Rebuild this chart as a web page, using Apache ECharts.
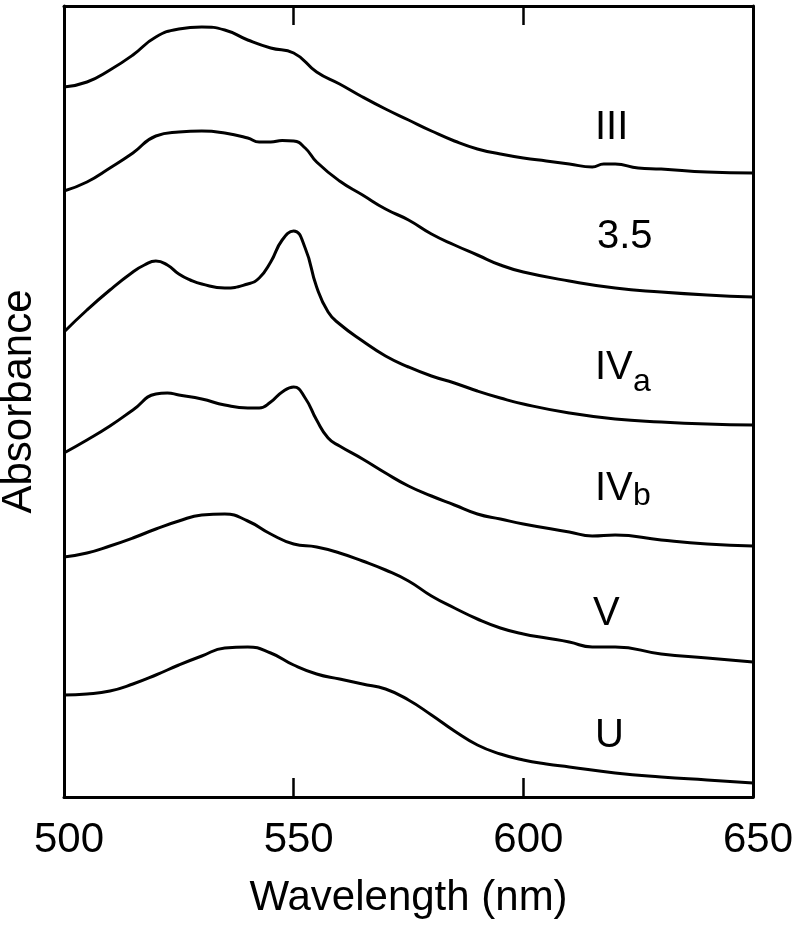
<!DOCTYPE html>
<html>
<head>
<meta charset="utf-8">
<script src="https://cdn.jsdelivr.net/npm/echarts@6/dist/echarts.min.js"></script>
<style>
  html, body { margin: 0; padding: 0; background: #fff; }
  #chart { width: 800px; height: 931px; }
</style>
</head>
<body>
<div id="chart"></div>
<script>
// x ticks (nm)
const xTicks = [500, 550, 600, 650];

// spectra, [wavelength nm, absorbance (offset, arbitrary units)]
const curveIII = [
  [500, 7.10], [505, 7.15], [510, 7.27], [515, 7.42], [520, 7.60], [525, 7.68],
  [530, 7.70], [535, 7.67], [540, 7.57], [545, 7.49], [550, 7.44], [555, 7.25],
  [560, 7.13], [565, 7.00], [570, 6.88], [575, 6.77], [580, 6.66], [585, 6.56],
  [590, 6.48], [595, 6.43], [600, 6.39], [605, 6.36], [610, 6.33], [615, 6.30],
  [617.5, 6.33], [620, 6.33], [625, 6.29], [630, 6.28], [640, 6.25], [650, 6.24]
];
const curve35 = [
  [500, 6.06], [505, 6.15], [510, 6.29], [515, 6.44], [520, 6.61], [525, 6.65],
  [530, 6.66], [535, 6.64], [540, 6.59], [542.5, 6.55], [545, 6.55], [547.5, 6.565],
  [550, 6.56], [552.5, 6.49], [555, 6.35], [560, 6.16], [565, 6.02], [570, 5.88],
  [575, 5.77], [580, 5.63], [585, 5.52], [590, 5.42], [595, 5.32], [600, 5.25],
  [610, 5.16], [620, 5.09], [630, 5.05], [640, 5.02], [650, 5.00]
];
const curveIVa = [
  [500, 4.65], [505, 4.87], [510, 5.07], [515, 5.25], [517.5, 5.32], [520, 5.36],
  [522.5, 5.32], [525, 5.23], [527.5, 5.17], [530, 5.13], [535, 5.09], [540, 5.13],
  [542.5, 5.19], [545, 5.35], [547.5, 5.57], [550, 5.66], [552.5, 5.49], [555, 5.10],
  [557.5, 4.85], [560, 4.73], [565, 4.56], [570, 4.41], [575, 4.30], [580, 4.21],
  [585, 4.14], [590, 4.06], [595, 3.99], [600, 3.93], [610, 3.84], [620, 3.78],
  [630, 3.75], [640, 3.73], [650, 3.72]
];
const curveIVb = [
  [500, 3.44], [505, 3.57], [510, 3.71], [515, 3.87], [520, 4.03], [522.5, 4.04],
  [525, 4.02], [530, 3.98], [535, 3.92], [540, 3.89], [542.5, 3.89], [545, 3.95],
  [547.5, 4.05], [550, 4.10], [552.5, 3.99], [555, 3.77], [557.5, 3.59], [560, 3.51],
  [565, 3.38], [570, 3.24], [575, 3.11], [580, 3.01], [585, 2.92], [590, 2.83],
  [595, 2.78], [600, 2.73], [610, 2.65], [615, 2.61], [620, 2.62], [630, 2.57],
  [640, 2.53], [650, 2.51]
];
const curveV = [
  [500, 2.40], [505, 2.44], [510, 2.51], [515, 2.59], [520, 2.68], [525, 2.76],
  [530, 2.82], [535, 2.83], [540, 2.76], [545, 2.63], [550, 2.53], [555, 2.50],
  [560, 2.44], [565, 2.36], [570, 2.27], [575, 2.16], [580, 2.01], [585, 1.89],
  [590, 1.78], [595, 1.69], [600, 1.63], [605, 1.59], [610, 1.55], [615, 1.50],
  [620, 1.50], [630, 1.43], [640, 1.39], [650, 1.35]
];
const curveU = [
  [500, 1.02], [505, 1.03], [510, 1.06], [515, 1.13], [520, 1.22], [525, 1.32],
  [530, 1.41], [535, 1.49], [540, 1.50], [545, 1.44], [550, 1.32], [555, 1.23],
  [560, 1.18], [565, 1.13], [570, 1.08], [575, 0.97], [580, 0.82], [585, 0.66],
  [590, 0.52], [595, 0.43], [600, 0.37], [605, 0.33], [610, 0.30], [620, 0.24],
  [630, 0.20], [640, 0.17], [650, 0.14]
];

const FONT = '"Liberation Sans", Arial, sans-serif';
const chart = echarts.init(document.getElementById('chart'));

function spectrum(data) {
  return {
    type: 'line',
    data: data,
    smooth: 0.5,
    showSymbol: false,
    lineStyle: { color: '#000', width: 3 },
    silent: true
  };
}

function label(text, x, y, size) {
  return {
    type: 'text', x: x, y: y, silent: true,
    style: { text: text, font: (size || 40) + 'px ' + FONT, fill: '#000' }
  };
}

const frameLine = { show: true, onZero: false, lineStyle: { color: '#000', width: 3 } };

chart.setOption({
  animation: false,
  backgroundColor: '#fff',
  grid: { left: 64, right: 47, top: 6, bottom: 134, containLabel: false, outerBoundsMode: 'none' },
  xAxis: [
    {
      type: 'value', min: 500, max: 650, interval: 50,
      name: 'Wavelength (nm)', nameLocation: 'middle', nameGap: 80,
      nameTextStyle: { fontFamily: FONT, fontSize: 42, color: '#000' },
      axisLine: frameLine,
      axisTick: { inside: true, length: 19, lineStyle: { color: '#000', width: 2.5 } },
      axisLabel: {
        margin: 22, fontFamily: FONT, fontSize: 42, color: '#000',
        showMinLabel: true, showMaxLabel: true, padding: [0, 0, 0, 10],
        formatter: v => xTicks.includes(v) ? String(v) : ''
      },
      splitLine: { show: false }
    },
    {
      type: 'value', position: 'top', min: 500, max: 650, interval: 50,
      axisLine: frameLine,
      axisTick: { inside: true, length: 19, lineStyle: { color: '#000', width: 2.5 } },
      axisLabel: { show: false },
      splitLine: { show: false }
    }
  ],
  yAxis: [
    {
      type: 'value', min: 0, max: 7.91,
      name: 'Absorbance', nameLocation: 'middle', nameGap: 24,
      nameTextStyle: { fontFamily: FONT, fontSize: 42, color: '#000' },
      axisLine: frameLine,
      axisTick: { show: false },
      axisLabel: { show: false },
      splitLine: { show: false }
    },
    {
      type: 'value', position: 'right', min: 0, max: 7.91,
      axisLine: frameLine,
      axisTick: { show: false },
      axisLabel: { show: false },
      splitLine: { show: false }
    }
  ],
  series: [curveIII, curve35, curveIVa, curveIVb, curveV, curveU].map(spectrum),
  graphic: [
    label('III', 595, 108),
    label('3.5', 597, 217),
    label('IV', 595, 348),
    label('a', 633, 366, 32),
    label('IV', 595, 469),
    label('b', 633, 480, 32),
    label('V', 593, 594),
    label('U', 595, 716)
  ]
});
</script>
</body>
</html>
